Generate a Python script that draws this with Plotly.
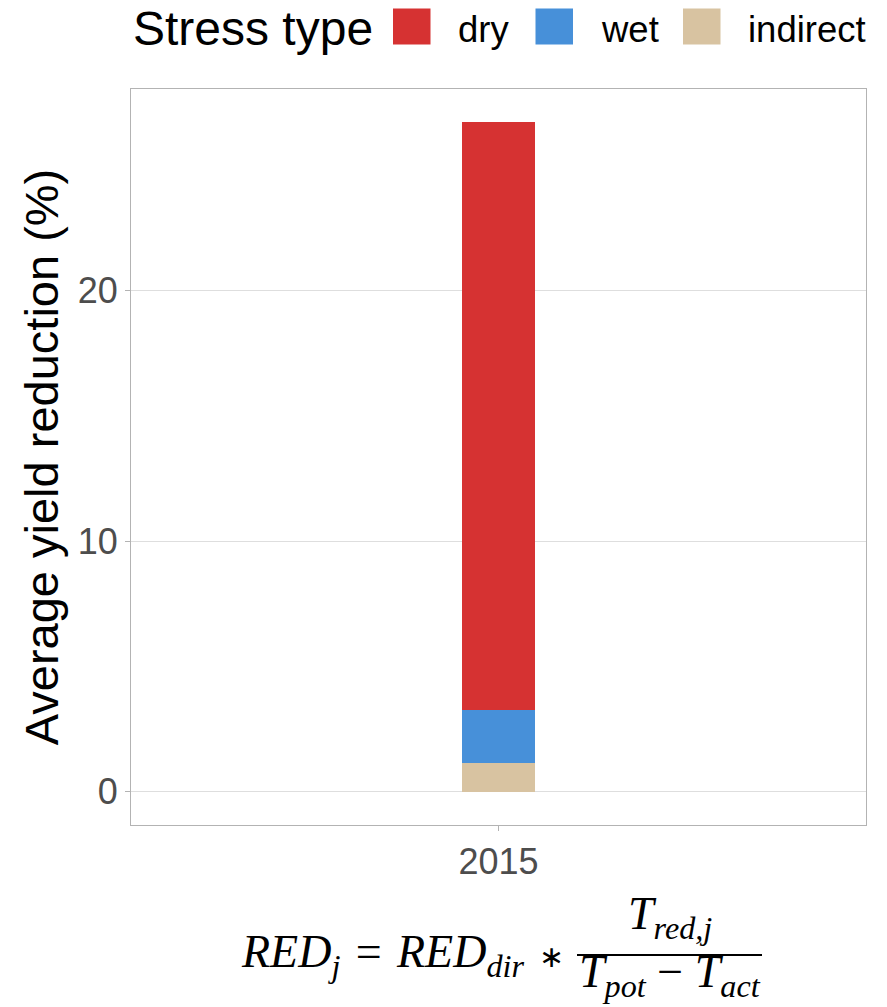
import plotly.graph_objects as go

# Data: average yield reduction (%) by stress type for 2015
years = ["2015"]
stress_types = ["indirect", "wet", "dry"]          # stacking order, bottom to top
legend_order = ["dry", "wet", "indirect"]
values = {
    "indirect": [1.15],
    "wet": [2.12],
    "dry": [23.45],
}
colors = {
    "dry": "#D63232",
    "wet": "#4790D9",
    "indirect": "#D8C3A1",
}
y_ticks = [0, 10, 20]

W, H = 887, 1007
L, R, T, B = 131, 21, 89, 182
PW, PH = W - L - R, H - T - B


def px(x):
    return (x - L) / PW


def py(y):
    return (H - B - y) / PH


fig = go.Figure()
for s in stress_types:
    fig.add_trace(go.Bar(
        x=years, y=values[s], name=s, marker_color=colors[s],
        marker_line_width=0, width=0.1, showlegend=False,
    ))

total = sum(v[0] for v in values.values())
pad = total * 0.05

fig.update_layout(
    width=W, height=H, barmode="stack",
    margin=dict(l=L, r=R, t=T, b=B),
    paper_bgcolor="white", plot_bgcolor="white",
    font=dict(family="Liberation Sans, Arial, sans-serif", color="#4d4d4d"),
    xaxis=dict(
        type="category", range=[-0.5, 0.5],
        showgrid=False, showline=True, mirror=True,
        linecolor="#b3b3b3", linewidth=1.2,
        ticks="outside", ticklen=5, tickcolor="#b3b3b3", tickwidth=1.2,
        tickfont=dict(size=36, color="#4d4d4d"),
        zeroline=False,
    ),
    yaxis=dict(
        range=[-pad, total + pad],
        tickvals=y_ticks, ticktext=[str(t) for t in y_ticks],
        showgrid=True, gridcolor="#dedede", gridwidth=1.2,
        showline=True, mirror=True, linecolor="#b3b3b3", linewidth=1.2,
        ticks="outside", ticklen=5, tickcolor="#b3b3b3", tickwidth=1.2,
        tickfont=dict(size=36, color="#4d4d4d"),
        zeroline=False,
        title=dict(text="Average yield reduction (%)",
                   font=dict(size=47, color="black"), standoff=4),
    ),
)

# Legend drawn along the top: title, colour keys and labels
fig.add_annotation(
    x=px(131), y=py(29), xref="paper", yref="paper",
    xanchor="left", yanchor="middle", showarrow=False,
    text="Stress type", font=dict(size=48, color="black"),
)
key_left = {"dry": 393, "wet": 535.5, "indirect": 683}
for s in legend_order:
    x0 = key_left[s]
    fig.add_shape(
        type="rect", xref="paper", yref="paper",
        x0=px(x0), x1=px(x0 + 37.5), y0=py(44.5), y1=py(8.5),
        fillcolor=colors[s], line=dict(width=0),
    )
    fig.add_annotation(
        x=px(x0 + 63), y=py(30), xref="paper", yref="paper",
        xanchor="left", yanchor="middle", showarrow=False,
        text=s, font=dict(size=36.5, color="black"),
    )

# Formula underneath the panel
math_font = dict(family="Liberation Serif, Times New Roman, serif", size=46, color="black")
fig.add_annotation(
    x=px(566), y=py(955), xref="paper", yref="paper",
    xanchor="right", yanchor="middle", showarrow=False,
    text=("<i>RED<sub>j</sub></i>\u2004=\u2004<i>RED<sub>dir</sub></i>\u2004"
          "<span style='font-size:30px'>\u2217</span>"),
    font=math_font,
)
fig.add_annotation(
    x=px(669.5), y=py(917), xref="paper", yref="paper",
    xanchor="center", yanchor="middle", showarrow=False,
    text="<i>T<sub>red,j</sub></i>", font=math_font,
)
fig.add_shape(
    type="line", xref="paper", yref="paper",
    x0=px(577), x1=px(762), y0=py(955), y1=py(955),
    line=dict(color="black", width=2),
)
fig.add_annotation(
    x=px(669.5), y=py(975), xref="paper", yref="paper",
    xanchor="center", yanchor="middle", showarrow=False,
    text="<i>T<sub>pot</sub></i> \u2212 <i>T<sub>act</sub></i>", font=math_font,
)

fig.write_html("out.html")
